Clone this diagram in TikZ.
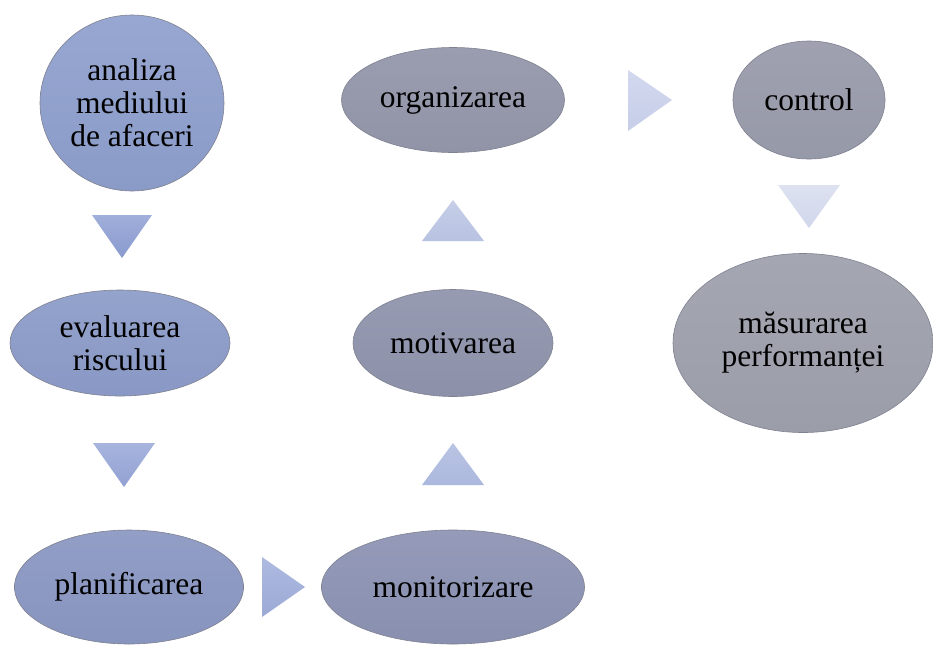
\documentclass[tikz,border=0pt]{standalone}
\usepackage{fontspec}
\setmainfont{Liberation Serif}
\usetikzlibrary{shapes.geometric}

\definecolor{edgegray}{HTML}{7E8190}

\begin{document}
\begin{tikzpicture}[
  x=1pt, y=-1pt,
  stage/.style={ellipse, draw=edgegray, line width=0.6pt, inner sep=0pt,
    align=center, font=\fontsize{31.5}{33}\selectfont},
  tri/.style={line width=0pt}
]
\useasboundingbox (0,0) rectangle (933,646);

% stages
\node[stage, minimum width=184pt, minimum height=176pt,
  top color={rgb,255:red,151;green,167;blue,209}, bottom color={rgb,255:red,139;green,155;blue,200}]
  (analiza) at (132,103) {analiza\\mediului\\de afaceri};
\node[stage, minimum width=220pt, minimum height=106pt,
  top color={rgb,255:red,148;green,163;blue,204}, bottom color={rgb,255:red,137;green,152;blue,196}]
  (evaluarea) at (120,343) {evaluarea\\riscului};
\node[stage, minimum width=229pt, minimum height=114pt,
  top color={rgb,255:red,146;green,158;blue,198}, bottom color={rgb,255:red,135;green,148;blue,190}]
  (planificarea) at (129,587) {planificarea};
\node[stage, minimum width=263pt, minimum height=114pt,
  top color={rgb,255:red,148;green,154;blue,184}, bottom color={rgb,255:red,137;green,143;blue,175}]
  (monitorizare) at (453,587) {monitorizare};
\node[stage, minimum width=200pt, minimum height=107pt,
  top color={rgb,255:red,150;green,155;blue,178}, bottom color={rgb,255:red,140;green,145;blue,169}]
  (motivarea) at (453,343) {motivarea};
\node[stage, minimum width=223pt, minimum height=105pt,
  top color={rgb,255:red,154;green,157;blue,176}, bottom color={rgb,255:red,145;green,148;blue,167}]
  (organizarea) at (453,100) {organizarea};
\node[stage, minimum width=152pt, minimum height=118pt,
  top color={rgb,255:red,159;green,161;blue,176}, bottom color={rgb,255:red,150;green,153;blue,168}]
  (control) at (809,100) {control};
\node[stage, minimum width=260pt, minimum height=179pt,
  top color={rgb,255:red,164;green,166;blue,177}, bottom color={rgb,255:red,155;green,157;blue,168}]
  (masurarea) at (803,343) {măsurarea\\performanței};

% triangles between stages
\shade[tri, shift={(122,237)}, top color={rgb,255:red,160;green,174;blue,218}, bottom color={rgb,255:red,137;green,154;blue,206}]
  (-30,-22) -- (30,-22) -- (0,21) -- cycle;
\shade[tri, shift={(124,465)}, top color={rgb,255:red,167;green,180;blue,222}, bottom color={rgb,255:red,146;green,161;blue,210}]
  (-31,-22) -- (31,-22) -- (0,22) -- cycle;
\shade[tri, shift={(283,587)}, top color={rgb,255:red,174;green,186;blue,224}, bottom color={rgb,255:red,155;green,169;blue,213}]
  (-21,-30) -- (22,0) -- (-21,30) -- cycle;
\shade[tri, shift={(453,464)}, top color={rgb,255:red,186;green,196;blue,228}, bottom color={rgb,255:red,171;green,184;blue,221}]
  (0,-21) -- (31,21) -- (-31,21) -- cycle;
\shade[tri, shift={(453,220)}, top color={rgb,255:red,198;green,206;blue,232}, bottom color={rgb,255:red,184;green,194;blue,225}]
  (0,-20) -- (31,21) -- (-31,21) -- cycle;
\shade[tri, shift={(650,100)}, top color={rgb,255:red,210;green,216;blue,238}, bottom color={rgb,255:red,198;green,206;blue,232}]
  (-22,-30) -- (22,0) -- (-22,31) -- cycle;
\shade[tri, shift={(809,207)}, top color={rgb,255:red,221;green,225;blue,240}, bottom color={rgb,255:red,209;green,215;blue,236}]
  (-31,-22) -- (31,-22) -- (0,21) -- cycle;
\end{tikzpicture}
\end{document}
